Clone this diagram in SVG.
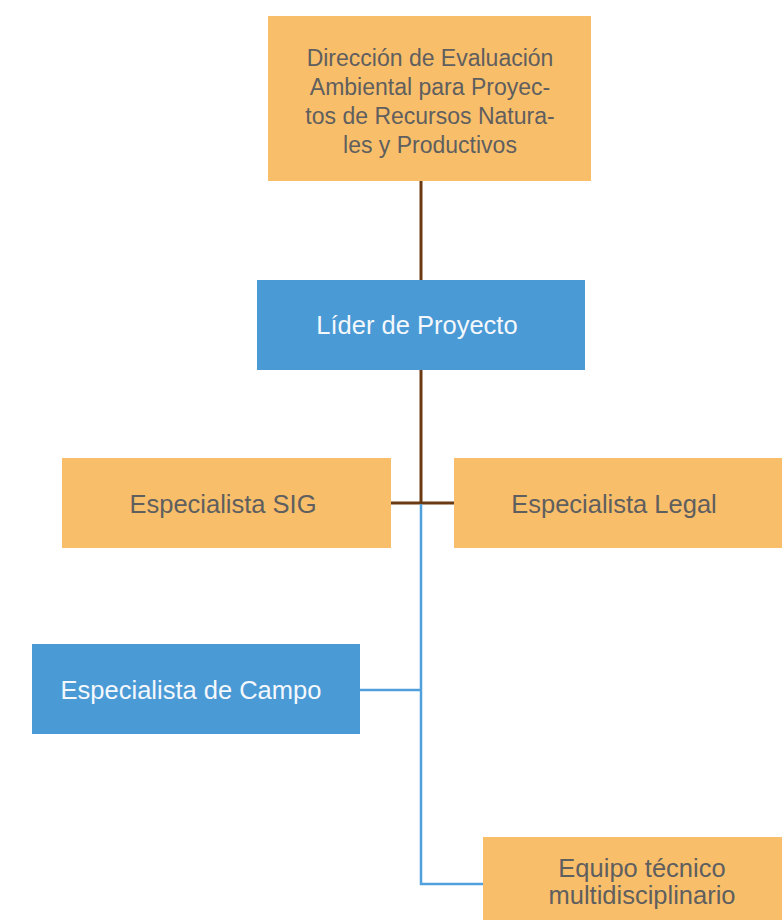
<svg xmlns="http://www.w3.org/2000/svg" width="782" height="920" viewBox="0 0 782 920">
<style>
.org{fill:#F9BE6A}
.blu{fill:#4A9AD6}
.t{font-family:"Liberation Sans",Arial,sans-serif;text-anchor:middle}
.dk{fill:#5F5F5F}
.wt{fill:#F4F8FC}
.br{stroke:#6B3A13;stroke-width:3;fill:none}
.bl{stroke:#4FA0DD;stroke-width:2.5;fill:none}
</style>
<rect width="782" height="920" fill="#FFFFFF"/>
<g id="connectors">
<path class="br" d="M421 181V280"/>
<path class="br" d="M421 370V503"/>
<path class="br" d="M391 503H454"/>
<path class="bl" d="M421 504V884H483"/>
<path class="bl" d="M360 690H421"/>
</g>
<g id="direccion">
<rect class="org" x="268" y="16" width="323" height="165"/>
<text class="t dk" font-size="23" x="430"><tspan x="430" y="66">Dirección de Evaluación</tspan><tspan x="430" y="95">Ambiental para Proyec-</tspan><tspan x="430" y="124">tos de Recursos Natura-</tspan><tspan x="430" y="153">les y Productivos</tspan></text>
</g>
<g id="lider">
<rect class="blu" x="257" y="280" width="328" height="90"/>
<text class="t wt" font-size="25.5" x="417" y="334">Líder de Proyecto</text>
</g>
<g id="sig">
<rect class="org" x="62" y="458" width="329" height="90"/>
<text class="t dk" font-size="25.5" x="223" y="513">Especialista SIG</text>
</g>
<g id="legal">
<rect class="org" x="454" y="458" width="328" height="90"/>
<text class="t dk" font-size="25.5" x="614" y="513">Especialista Legal</text>
</g>
<g id="campo">
<rect class="blu" x="32" y="644" width="328" height="90"/>
<text class="t wt" font-size="25.5" x="191" y="699">Especialista de Campo</text>
</g>
<g id="equipo">
<rect class="org" x="483" y="837" width="299" height="83"/>
<text class="t dk" font-size="25.5" x="642"><tspan x="642" y="877">Equipo técnico</tspan><tspan x="642" y="904">multidisciplinario</tspan></text>
</g>
</svg>
